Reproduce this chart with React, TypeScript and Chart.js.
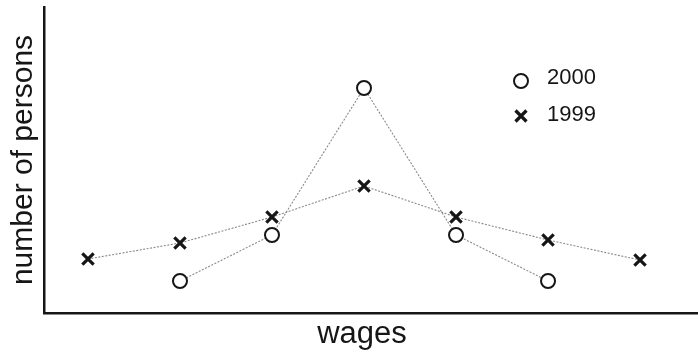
import React, { useEffect, useRef } from "react";
import { Chart, registerables } from "chart.js";

Chart.register(...registerables);

// wage bins (positions along the wages axis)
const wageBins = [0, 1, 2, 3, 4, 5, 6];
// number of persons per wage bin
const persons1999 = [54, 70, 96, 127, 96, 73, 53];
const persons2000 = [null, 32, 78, 225, 78, 32, null];
const seriesLabels = ["2000", "1999"];
const xTitle = "wages";
const yTitle = "number of persons";

const FONT = "'Liberation Sans', Arial, Helvetica, sans-serif";
const INK = "#161616";

const overlayPlugin = {
  id: "overlay",
  afterDraw(chart: any) {
    const ctx = chart.ctx;
    const x = chart.chartArea.left + 477;
    const y0 = chart.chartArea.top + 73;
    const gap = 36;
    ctx.save();
    ctx.strokeStyle = INK;
    // circle
    ctx.lineWidth = 2;
    ctx.beginPath();
    ctx.arc(x, y0 + 1, 7, 0, Math.PI * 2);
    ctx.fillStyle = "#fff";
    ctx.fill();
    ctx.stroke();
    // cross
    const y1 = y0 + gap;
    const r = 5.5;
    ctx.lineWidth = 3.2;
    ctx.beginPath();
    ctx.moveTo(x - r, y1 - r);
    ctx.lineTo(x + r, y1 + r);
    ctx.moveTo(x + r, y1 - r);
    ctx.lineTo(x - r, y1 + r);
    ctx.stroke();
    ctx.fillStyle = INK;
    ctx.font = `22px ${FONT}`;
    ctx.textBaseline = "middle";
    ctx.textAlign = "left";
    ctx.fillText(seriesLabels[0], x + 26, y0 - 2);
    ctx.fillText(seriesLabels[1], x + 26, y1 - 1);
    // x axis title
    ctx.font = `31px ${FONT}`;
    ctx.textAlign = "center";
    ctx.fillText(xTitle, chart.chartArea.left + 318, chart.chartArea.bottom + 21);
    ctx.restore();
  },
};

export default function App() {
  const ref = useRef<HTMLCanvasElement | null>(null);
  useEffect(() => {
    if (!ref.current) return;
    const chart = new Chart(ref.current, {
      type: "line",
      data: {
        datasets: [
          {
            label: seriesLabels[0],
            data: wageBins.map((b, i) => ({ x: b, y: persons2000[i] })),
            borderColor: "#8a8a8a",
            borderWidth: 1.1,
            borderDash: [2, 1.5],
            pointStyle: "circle",
            pointRadius: 7,
            pointBorderWidth: 2,
            pointBorderColor: INK,
            pointBackgroundColor: "#ffffff",
            spanGaps: false,
          },
          {
            label: seriesLabels[1],
            data: wageBins.map((b, i) => ({ x: b, y: persons1999[i] })),
            borderColor: "#8a8a8a",
            borderWidth: 1.1,
            borderDash: [2, 1.5],
            pointStyle: "crossRot",
            pointRadius: 8,
            pointBorderWidth: 3.2,
            pointBorderColor: INK,
            pointBackgroundColor: INK,
          },
        ] as any,
      },
      options: {
        animation: false,
        responsive: false,
        maintainAspectRatio: false,
        layout: { autoPadding: false, padding: { top: 7, left: 0, right: 0, bottom: 0 } },
        plugins: {
          legend: { display: false },
          tooltip: { enabled: false },
        },
        scales: {
          x: {
            type: "linear",
            min: -0.478,
            max: 6.63,
            grid: { display: false },
            ticks: { display: false },
            border: { display: true, color: INK, width: 2.5 },
            title: { display: false, text: xTitle },
            afterFit: (s: any) => {
              s.height = 43;
            },
          },
          y: {
            type: "linear",
            min: 0,
            max: 306,
            grid: { display: false },
            ticks: { display: false },
            border: { display: true, color: INK, width: 2.5 },
            title: {
              display: true,
              text: yTitle,
              color: INK,
              font: { family: FONT, size: 30, lineHeight: 1.2 },
              padding: { top: 6, bottom: 0 },
            },
            afterFit: (s: any) => {
              s.width = 44;
            },
          },
        },
      } as any,
      plugins: [overlayPlugin],
    });
    return () => chart.destroy();
  }, []);
  return (
    <div style={{ position: "absolute", left: 0, top: 0, width: 698, height: 356, background: "#fff" }}>
      <canvas ref={ref} width={698} height={356} style={{ display: "block", width: 698, height: 356 }} />
    </div>
  );
}
